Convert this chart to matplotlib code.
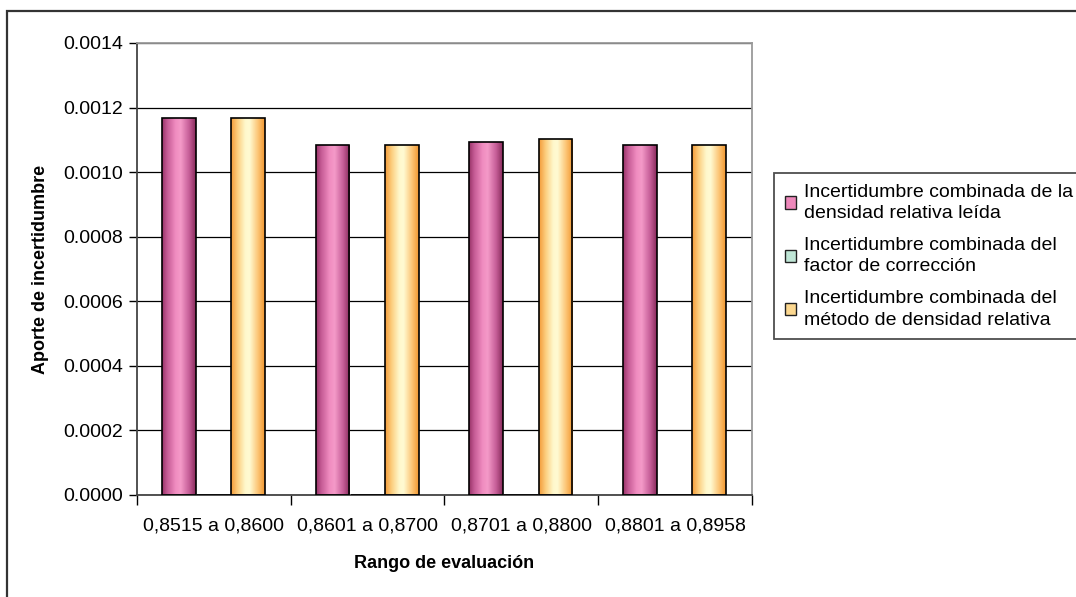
import numpy as np
import matplotlib
matplotlib.use('Agg')
import matplotlib.pyplot as plt
from matplotlib.colors import LinearSegmentedColormap
from matplotlib.patches import Rectangle, Patch
import matplotlib.ticker as mticker

plt.rcParams['font.family'] = ['Liberation Sans', 'DejaVu Sans']

# data
categories = ['0,8515 a 0,8600', '0,8601 a 0,8700', '0,8701 a 0,8800', '0,8801 a 0,8958']
leida = [0.001167, 0.001084, 0.001093, 0.001084]
factor = [0.0, 0.0, 0.0, 0.0]
metodo = [0.001167, 0.001084, 0.001102, 0.001084]
series_names = ['Incertidumbre combinada de la\ndensidad relativa leída',
                'Incertidumbre combinada del\nfactor de corrección',
                'Incertidumbre combinada del\nmétodo de densidad relativa']

# horizontal gradients like the old Excel fill
pink = LinearSegmentedColormap.from_list('pink', [
    (0.0, '#963266'), (0.15, '#c45a94'), (0.4, '#f08cc0'), (0.55, '#f49ac8'),
    (0.8, '#c65e98'), (1.0, '#872a5a')])
green = LinearSegmentedColormap.from_list('green', [
    (0.0, '#5fa88c'), (0.45, '#d6f0e4'), (1.0, '#5fa88c')])
yellow = LinearSegmentedColormap.from_list('yellow', [
    (0.0, '#f39a38'), (0.2, '#fccf80'), (0.42, '#fff8cc'), (0.55, '#fffad2'),
    (0.8, '#fcc474'), (1.0, '#f1962f')])

fig = plt.figure(figsize=(10.76, 5.97), dpi=100)
ax = fig.add_axes([0.1273, 0.1709, 0.5716, 0.7571])

x = np.arange(len(categories))
width = 0.22
offsets = [-0.228, 0.0, 0.222]
grad = np.linspace(0, 1, 256).reshape(1, -1)

for vals, off, cmap in zip([leida, factor, metodo], offsets, [pink, green, yellow]):
    bars = ax.bar(x + off, vals, width, facecolor='none', edgecolor='black',
                  linewidth=1.2, zorder=3)
    for b in bars:
        if b.get_height() <= 0:
            continue
        im = ax.imshow(grad, cmap=cmap, aspect='auto', zorder=2,
                       extent=[b.get_x(), b.get_x() + b.get_width(), 0, b.get_height()])
        im.set_clip_path(b)

ax.set_xlim(-0.5, 3.5)
ax.set_ylim(0, 0.0014)

ax.yaxis.set_major_locator(mticker.MultipleLocator(0.0002))
ax.yaxis.set_major_formatter(mticker.FormatStrFormatter('%.4f'))
ax.set_xticks(x)
ax.set_xticklabels(categories)
ax.set_xticks(np.arange(-0.5, 4, 1), minor=True)
ax.tick_params(axis='x', which='major', length=0, pad=16, labelsize=14)
ax.tick_params(axis='x', which='minor', length=7, width=1, direction='out')
ax.tick_params(axis='y', length=6, width=1, direction='out', labelsize=14, pad=4)

ax.grid(True, axis='y', color='black', linewidth=0.9, zorder=1)
ax.set_axisbelow(True)
for s in ['left', 'bottom']:
    ax.spines[s].set_color('#444444')
    ax.spines[s].set_linewidth(1.3)
for s in ['right', 'top']:
    ax.spines[s].set_color('#9a9a9a')
    ax.spines[s].set_linewidth(1.3)

ax.set_xlabel('Rango de evaluación', fontsize=13, fontweight='bold', labelpad=15)
ax.set_ylabel('Aporte de incertidumbre', fontsize=13, fontweight='bold', labelpad=10)

handles = [Patch(facecolor='#ee88bb', edgecolor='#222222'),
           Patch(facecolor='#bfe6d6', edgecolor='#222222'),
           Patch(facecolor='#fcd890', edgecolor='#222222')]
leg = fig.legend(handles, series_names, loc='upper left',
                 bbox_to_anchor=(774 / 1076, 1 - 173 / 597), bbox_transform=fig.transFigure,
                 borderaxespad=0, fontsize=14, handlelength=0.6, handleheight=0.6,
                 handletextpad=0.4, labelspacing=0.75, borderpad=0.55, fancybox=False)
for t in leg.get_texts():
    t.set_linespacing(1.35)
leg.get_frame().set_edgecolor('#222222')
leg.get_frame().set_linewidth(1.3)

# outer chart border (cut at right and bottom in the reference)
fig.patches.append(Rectangle((7 / 1076, -0.2), 1.2, 1.2 - 11 / 597,
                             transform=fig.transFigure, fill=False,
                             edgecolor='#333333', linewidth=1.6))

fig.savefig('out.png', dpi=100)
